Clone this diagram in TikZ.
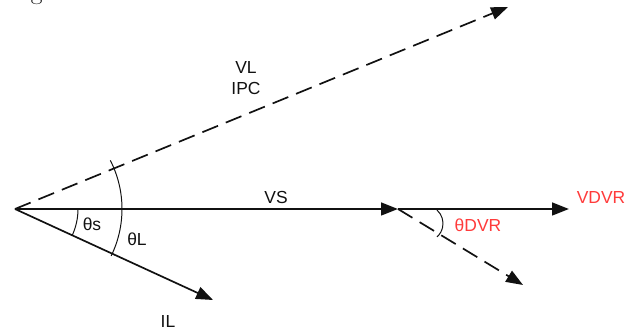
\documentclass[tikz,border=0pt]{standalone}
\usepackage{fontspec}
\newfontfamily\lblfont{Liberation Sans}
\usetikzlibrary{arrows.meta}
\usepackage{xcolor}
\definecolor{phasorblack}{HTML}{111111}
\definecolor{dvrred}{HTML}{FF3B3B}

\begin{document}
\begin{tikzpicture}[
  x=0.025cm, y=0.025cm,
  phasor/.style={draw=phasorblack, line width=1.2pt,
                 -{Triangle[length=12pt, width=9pt]}},
  dashphasor/.style={phasor, dash pattern=on 12pt off 6pt},
  anglearc/.style={draw=phasorblack, line width=0.7pt},
  lbl/.style={font=\lblfont\fontsize{12.4}{14}\selectfont, text=phasorblack, inner sep=0pt},
  redlbl/.style={lbl, text=dvrred}
]
  % Frame
  \useasboundingbox (0,0) rectangle (633,333);
  \clip (0,0) rectangle (633,333);
  \fill[white] (0,0) rectangle (633,333);

  % Caption, cut off by the top edge
  \node[font=\fontsize{18}{20}\selectfont, anchor=base west, inner sep=0pt] (cap) at (9,333.5) {Fig. 6};

  % Phasor end points
  \coordinate (O) at (15,124);
  \coordinate (vltip) at (508,326);
  \coordinate (vstip) at (398,124);
  \coordinate (vdvrtip) at (569,124);
  \coordinate (iltip) at (213,33);
  \coordinate (dvrtip) at (523,48);

  % Phasors
  \draw[dashphasor] (O) -- (vltip);
  \draw[phasor, line width=1.6pt] (O) -- (vstip);
  \draw[phasor, line width=1.6pt] (vstip) -- (vdvrtip);
  \draw[phasor] (O) -- (iltip);
  \draw[dashphasor] (vstip) -- (dvrtip);

  % Angle arcs
  \draw[anglearc] ([shift={(63,0)}]O) arc[start angle=0, end angle=-24.7, radius=63];
  \draw[anglearc] ([shift={(-26:107)}]O) arc[start angle=-26, end angle=27, radius=107];
  \draw[anglearc] ([shift={(27,-14.5)}]vstip) ++(48:18) arc[start angle=48, end angle=-48, radius=18];

  % Labels
  \node[lbl] (vl) at (246,265) {VL};
  \node[lbl] (ipc) at (246,244) {IPC};
  \node[lbl] (vs) at (276,135) {VS};
  \node[lbl] (ths) at (92,109) {θs};
  \node[lbl] (thl) at (137,94) {θL};
  \node[lbl] (il) at (168,11) {IL};
  \node[redlbl] (vdvr) at (601,135) {VDVR};
  \node[redlbl] (thdvr) at (478,108) {θDVR};
\end{tikzpicture}
\end{document}
